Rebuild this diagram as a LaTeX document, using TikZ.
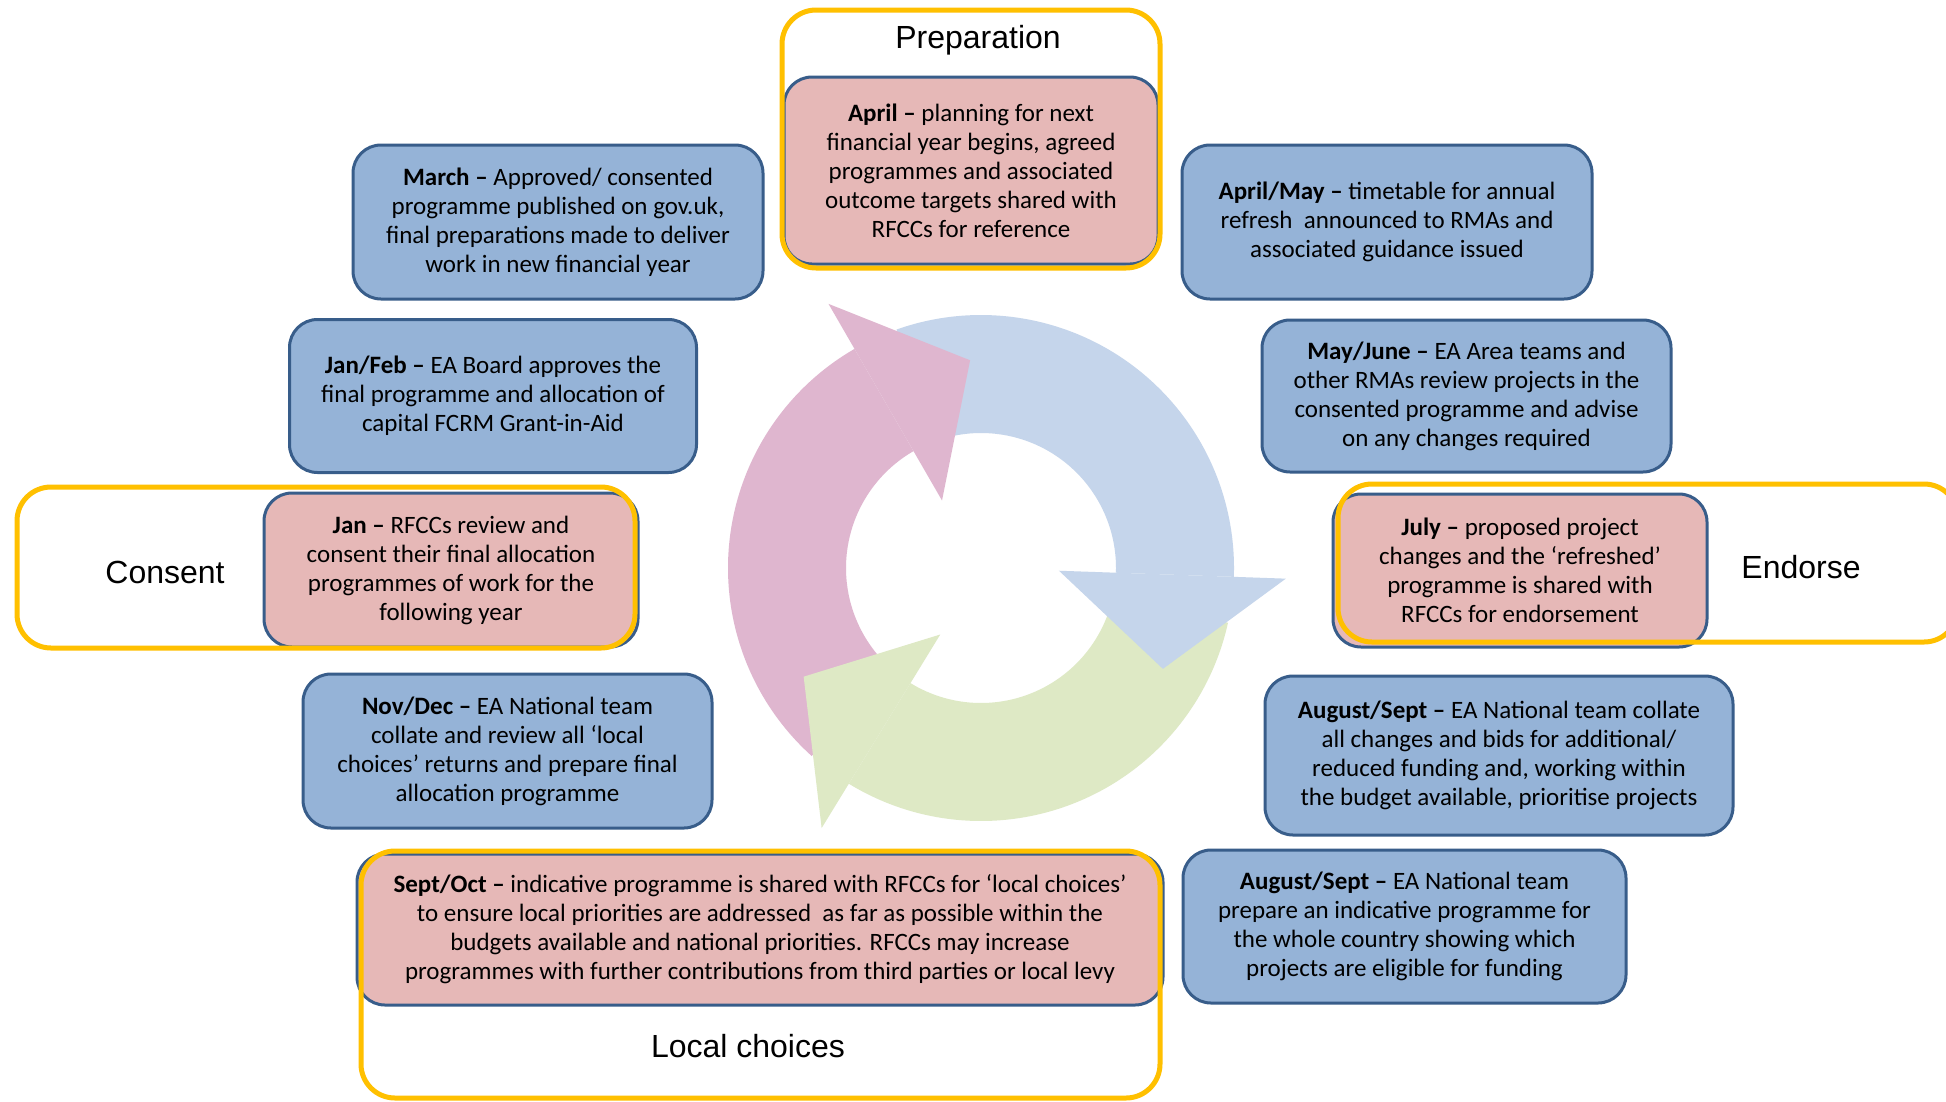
\documentclass[tikz,border=0pt]{standalone}
\usepackage{fontspec}
\setmainfont{Liberation Sans}
\newfontfamily\boxfont{Carlito}
\definecolor{boxblue}{HTML}{95B3D7}
\definecolor{boxpink}{HTML}{E6B8B7}
\definecolor{boxline}{HTML}{385D8A}
\definecolor{stageyellow}{HTML}{FFC000}
\definecolor{ringpink}{HTML}{DFB6CF}
\definecolor{ringblue}{HTML}{C5D5EB}
\definecolor{ringgreen}{HTML}{DEE9C5}

\begin{document}
\begin{tikzpicture}[x=1pt, y=-1pt, line join=round,
  month box/.style={rectangle, rounded corners=28pt, draw=boxline, line width=3pt, align=center, inner sep=0pt, font=\boxfont\fontsize{25}{29}\selectfont},
  blue box/.style={month box, fill=boxblue},
  red box/.style={month box, fill=boxpink},
  stage frame/.style={rectangle, draw=stageyellow, line width=5pt, rounded corners=34pt, inner sep=0pt},
  stage label/.style={font=\fontsize{32}{38}\selectfont}]
\path[fill=white, use as bounding box] (0,0) rectangle (1946,1101);

% cycle of three arrows, bodies first so every head lies on top
\begin{scope}[shift={(981,568)}, yscale=-1]
\fill[ringpink] (228:253) arc[start angle=228, end angle=120, radius=253] -- (120:135) arc[start angle=120, end angle=228, radius=135] -- cycle;
\fill[ringblue] (109.5:253) arc[start angle=109.5, end angle=-2, radius=253] -- (-2:135) arc[start angle=-2, end angle=109.5, radius=135] -- cycle;
\fill[ringgreen] (-12.5:253) arc[start angle=-12.5, end angle=-121.5, radius=253] -- (-121.5:135) arc[start angle=-121.5, end angle=-12.5, radius=135] -- cycle;
\fill[ringpink] (120:78) -- (120:305) -- (93:208) -- cycle;
\fill[ringblue] (-2:78) -- (-2:305) -- (-29:208) -- cycle;
\fill[ringgreen] (-121.5:78) -- (-121.5:305) -- (-148.5:208) -- cycle;
\end{scope}

\begin{scope}
\node[red box, minimum width=374pt, minimum height=187pt] (apr) at (971,170.5) {\textbf{April –} planning for next\\financial year begins, agreed\\programmes and associated\\outcome targets shared with\\RFCCs for reference};
\node[blue box, minimum width=410pt, minimum height=154pt] (mar) at (558,222) {\textbf{March –} Approved/ consented\\programme published on gov.uk,\\final preparations made to deliver\\work in new financial year};
\node[blue box, minimum width=410pt, minimum height=154pt] (aprmay) at (1387,222) {\textbf{April/May –} timetable for annual\\refresh\ \ announced to RMAs and\\associated guidance issued};
\node[blue box, minimum width=407pt, minimum height=153pt] (janfeb) at (493,396) {\textbf{Jan/Feb –} EA Board approves the\\final programme and allocation of\\capital FCRM Grant-in-Aid};
\node[blue box, minimum width=409pt, minimum height=152pt] (mayjun) at (1466.5,396) {\textbf{May/June –} EA Area teams and\\other RMAs review projects in the\\consented programme and advise\\on any changes required};
\node[red box, minimum width=374pt, minimum height=154pt] (jan) at (451,570) {\textbf{Jan –} RFCCs review and\\consent their final allocation\\programmes of work for the\\following year};
\node[red box, minimum width=374pt, minimum height=153pt] (jul) at (1520,570.5) {\textbf{July –} proposed project\\changes and the ‘refreshed’\\programme is shared with\\RFCCs for endorsement};
\node[blue box, minimum width=409pt, minimum height=154pt] (novdec) at (507.5,751) {\textbf{Nov/Dec –} EA National team\\collate and review all ‘local\\choices’ returns and prepare final\\allocation programme};
\node[blue box, minimum width=468pt, minimum height=159pt] (augsepa) at (1499,755.5) {\textbf{August/Sept –} EA National team collate\\all changes and bids for additional/\\reduced funding and, working within\\the budget available, prioritise projects};
\node[blue box, minimum width=443pt, minimum height=153pt] (augsepb) at (1404.5,926.5) {\textbf{August/Sept –} EA National team\\prepare an indicative programme for\\the whole country showing which\\projects are eligible for funding};
\node[red box, minimum width=806pt, minimum height=151pt] (septoct) at (760,929.5) {\textbf{Sept/Oct –} indicative programme is shared with RFCCs for ‘local choices’\\to ensure local priorities are addressed\ \ as far as possible within the\\budgets available and national priorities. RFCCs may increase\\programmes with further contributions from third parties or local levy};
\end{scope}

% yellow stage outlines go over the boxes
\begin{scope}
\node[stage frame, minimum width=378pt, minimum height=258pt] (prepframe) at (971,139) {};
\node[stage frame, minimum width=618pt, minimum height=161pt] (consentframe) at (326,567.5) {};
\node[stage frame, minimum width=620pt, minimum height=158pt] (endorseframe) at (1648,563) {};
\node[stage frame, minimum width=799pt, minimum height=247pt] (localframe) at (760.5,974.5) {};
\node[stage label] (prep) at (978,40) {Preparation};
\node[stage label] (consent) at (165,572) {Consent};
\node[stage label] (endorse) at (1801,567) {Endorse};
\node[stage label] (local) at (748,1046) {Local choices};
\end{scope}
\end{tikzpicture}
\end{document}
